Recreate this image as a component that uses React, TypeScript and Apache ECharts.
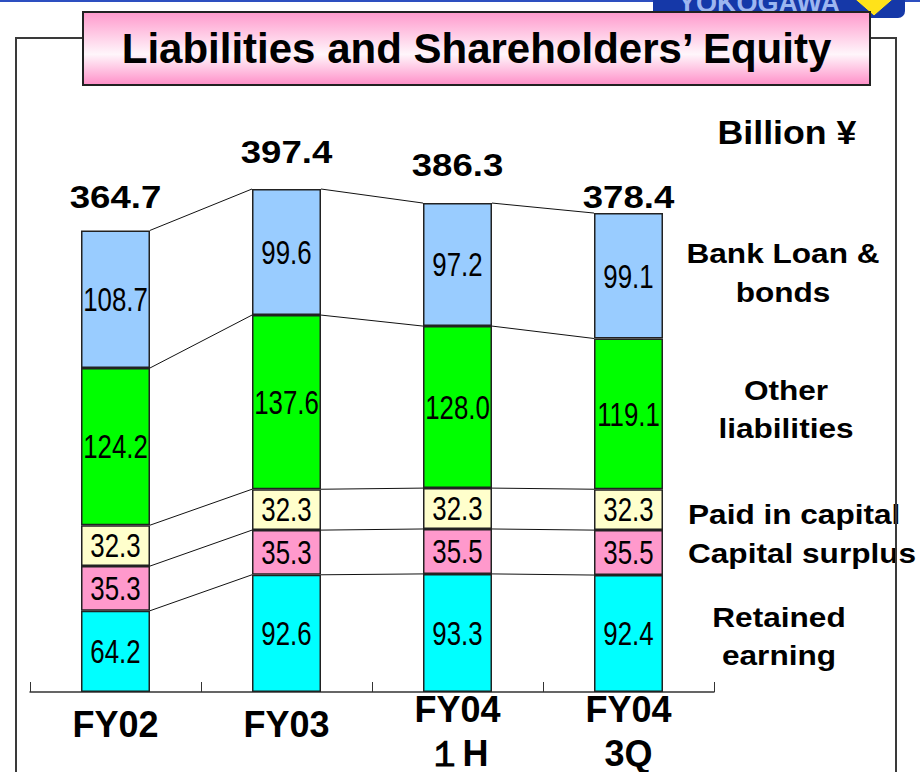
import React, { useEffect, useRef } from 'react';
import * as echarts from 'echarts';

// ---- data ----
const categories = ['FY02', 'FY03', 'FY04\n１H', 'FY04\n3Q'];
const retainedEarning = [64.2, 92.6, 93.3, 92.4];
const capitalSurplus = [35.3, 35.3, 35.5, 35.5];
const paidInCapital = [32.3, 32.3, 32.3, 32.3];
const otherLiabilities = [124.2, 137.6, 128.0, 119.1];
const bankLoanBonds = [108.7, 99.6, 97.2, 99.1];
const totals = [364.7, 397.4, 386.3, 378.4];
const seriesNames = ['Retained earning', 'Capital surplus', 'Paid in capital', 'Other liabilities', 'Bank Loan & bonds'];
const stackValues = [retainedEarning, capitalSurplus, paidInCapital, otherLiabilities, bankLoanBonds];
const colors = ['#00ffff', '#ff99cc', '#ffffcc', '#00ff00', '#99ccff'];

// ---- layout / style ----
const FONT = '"Liberation Sans", Arial, Helvetica, sans-serif';
const BAR_W = 69;
const totalGap = [33, 37, 38, 16];

export default function App() {
  const ref = useRef<HTMLDivElement>(null);

  useEffect(() => {
    if (!ref.current) return;
    const chart = echarts.init(ref.current, null, { renderer: 'svg' });

    const barSeries = stackValues.map((vals, k) => ({
      name: seriesNames[k],
      type: 'bar',
      stack: 'total',
      barWidth: BAR_W,
      data: vals,
      itemStyle: { color: colors[k], borderColor: '#222', borderWidth: 1.5 },
      emphasis: { disabled: true },
    }));

    const overlay = {
      type: 'custom',
      name: 'overlay',
      clip: false,
      z: 10,
      data: categories.map((_, i) => [i, totals[i]]),
      encode: { x: 0, y: 1 },
      renderItem: (params: any, api: any) => {
        const i = params.dataIndex;
        const half = BAR_W / 2;
        const children: any[] = [];
        let cum = 0;
        let cumN = 0;
        for (let k = 0; k < stackValues.length; k++) {
          const v = stackValues[k][i];
          const mid = api.coord([i, cum + v / 2]);
          children.push({
            type: 'text',
            x: mid[0],
            y: mid[1],
            scaleX: 0.76,
            style: {
              text: v.toFixed(1),
              fontSize: 34,
              fontFamily: FONT,
              fill: '#000',
              align: 'center',
              verticalAlign: 'middle',
            },
          });
          cum += v;
          if (i < categories.length - 1) {
            cumN += stackValues[k][i + 1];
            const p1 = api.coord([i, cum]);
            const p2 = api.coord([i + 1, cumN]);
            children.push({
              type: 'line',
              shape: { x1: p1[0] + half, y1: p1[1], x2: p2[0] - half, y2: p2[1] },
              style: { stroke: '#111', lineWidth: 1 },
            });
          }
        }
        const top = api.coord([i, totals[i]]);
        children.push({
          type: 'text',
          x: top[0],
          y: top[1] - totalGap[i],
          scaleX: 1.18,
          style: {
            text: totals[i].toFixed(1),
            fontSize: 31,
            fontWeight: 'bold',
            fontFamily: FONT,
            fill: '#000',
            align: 'center',
            verticalAlign: 'middle',
          },
        });
        return { type: 'group', children };
      },
    };

    const sideLabel = (text: string, x: number, y: number, align: string, lh: number) => ({
      type: 'text',
      x,
      y,
      scaleX: 1.17,
      style: {
        text,
        fontSize: 27,
        fontWeight: 'bold',
        fontFamily: FONT,
        fill: '#000',
        align,
        verticalAlign: 'middle',
        lineHeight: lh,
      },
    });

    const option: any = {
      animation: false,
      backgroundColor: '#fff',
      grid: { left: 30, right: 206, top: 59.15, bottom: 80, containLabel: false, outerBoundsMode: 'none' },
      xAxis: {
        type: 'category',
        data: categories,
        boundaryGap: true,
        axisLine: { show: true, lineStyle: { color: '#333', width: 1.5 } },
        axisTick: { show: true, inside: true, length: 10, alignWithLabel: false, lineStyle: { color: '#333', width: 1 } },
        axisLabel: {
          interval: 0,
          margin: -5,
          verticalAlign: 'top',
          formatter: (v: string) =>
            v.includes('\n') ? v.split('\n').map((s) => `{m|${s}}`).join('\n') : `{s|${v}}`,
          rich: {
            s: { fontSize: 36, fontWeight: 'bold', fontFamily: FONT, color: '#000', lineHeight: 74 },
            m: { fontSize: 36, fontWeight: 'bold', fontFamily: FONT, color: '#000', lineHeight: 44 },
          },
        },
      },
      yAxis: { type: 'value', min: 0, max: 500, show: false, splitLine: { show: false } },
      series: [...barSeries, overlay],
      graphic: [
        // top blue line and logo
        { type: 'rect', shape: { x: 0, y: 0, width: 920, height: 2 }, style: { fill: '#2d4fc0' } },
        { type: 'rect', shape: { x: 653, y: -12, width: 252, height: 30, r: 7 }, style: { fill: '#1538a8' } },
        {
          type: 'text',
          x: 759,
          y: 16,
          style: {
            text: 'YOKOGAWA',
            fontSize: 27,
            fontWeight: 'bold',
            fontFamily: FONT,
            fill: '#9db6f0',
            align: 'center',
            verticalAlign: 'bottom',
          },
        },
        {
          type: 'polygon',
          shape: { points: [[851, -4], [897, -4], [874, 16]] },
          style: { fill: '#ffe21a', stroke: '#1538a8', lineWidth: 1 },
        },
        // right side labels
        {
          type: 'text',
          x: 787,
          y: 132,
          scaleX: 1.05,
          style: {
            text: 'Billion ¥',
            fontSize: 34,
            fontWeight: 'bold',
            fontFamily: FONT,
            fill: '#000',
            align: 'center',
            verticalAlign: 'middle',
          },
        },
        sideLabel('Bank Loan &\nbonds', 783, 272.5, 'center', 39),
        sideLabel('Other\nliabilities', 786, 409, 'center', 38),
        sideLabel('Paid in capital', 688, 514, 'left', 30),
        sideLabel('Capital surplus', 688, 553, 'left', 30),
        sideLabel('Retained\nearning', 779, 636, 'center', 38),
        // frame
        {
          type: 'polyline',
          shape: { points: [[83, 38], [16, 38], [16, 780]] },
          style: { stroke: '#3a3a3a', lineWidth: 2, fill: 'none' },
        },
        {
          type: 'polyline',
          shape: { points: [[870, 38], [896, 38], [896, 780]] },
          style: { stroke: '#3a3a3a', lineWidth: 2, fill: 'none' },
        },
        // title box
        {
          type: 'rect',
          shape: { x: 83, y: 12, width: 787, height: 73 },
          style: {
            fill: new echarts.graphic.LinearGradient(0, 0, 0, 1, [
              { offset: 0, color: '#ff99cc' },
              { offset: 0.58, color: '#fff6fb' },
              { offset: 1, color: '#ff8fc8' },
            ]),
            stroke: '#222',
            lineWidth: 2,
          },
        },
        {
          type: 'text',
          x: 476.5,
          y: 48,
          style: {
            text: 'Liabilities and Shareholders’ Equity',
            fontSize: 42,
            fontWeight: 'bold',
            fontFamily: FONT,
            fill: '#000',
            align: 'center',
            verticalAlign: 'middle',
          },
        },
      ],
    };

    chart.setOption(option);
    return () => chart.dispose();
  }, []);

  return (
    <div
      ref={ref}
      style={{ position: 'absolute', left: 0, top: 0, width: 920, height: 772 }}
    />
  );
}
